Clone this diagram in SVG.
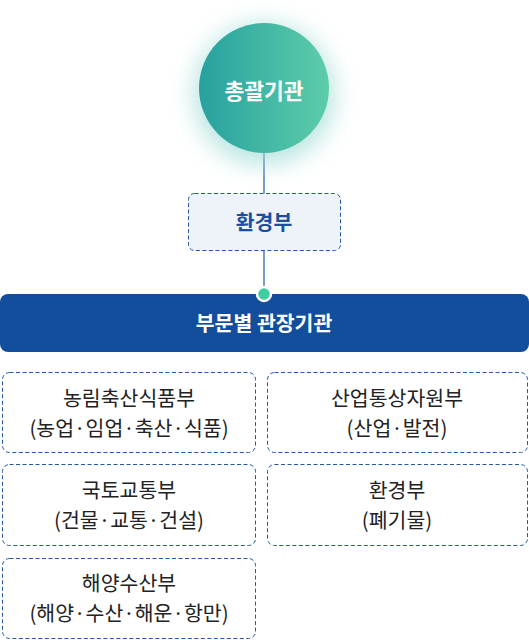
<svg xmlns="http://www.w3.org/2000/svg" width="529" height="640" viewBox="0 0 529 640">
<style>
text{font-family:"Noto Sans CJK KR","Noto Sans",sans-serif;text-anchor:middle}
.sub{fill:none;stroke:#2558a8;stroke-width:1;stroke-dasharray:4 2.5}
.st{font-size:20.5px;fill:#222}
.conn{stroke:#1f56a6;stroke-width:1.2;fill:none}
</style>
<defs>
<linearGradient id="g" x1="0" y1="0" x2="1" y2="0">
<stop offset="0" stop-color="#27a19f"/>
<stop offset="1" stop-color="#5dcda9"/>
</linearGradient>
<filter id="glow" x="-50%" y="-50%" width="200%" height="200%">
<feGaussianBlur stdDeviation="12"/>
</filter>
</defs>
<rect width="529" height="640" fill="#fff"/>
<g id="connectors">
<line class="conn" x1="264" y1="150" x2="264" y2="194"/>
<line class="conn" x1="264" y1="251" x2="264" y2="290"/>
</g>
<g id="root">
<circle cx="264" cy="94" r="70" fill="#9fdcd6" opacity="0.75" filter="url(#glow)"/>
<circle cx="264" cy="88" r="65" fill="url(#g)"/>
<text x="264" y="99" font-size="21.5" font-weight="bold" fill="#fff">총괄기관</text>
</g>
<g id="env">
<rect x="188.5" y="193.5" width="152" height="57" rx="6" class="sub" style="fill:#edf3f8"/>
<text x="264" y="230" font-size="20.5" font-weight="bold" fill="#1b4e9e">환경부</text>
</g>
<g id="bar">
<rect x="0" y="294" width="529" height="58" rx="8" fill="#134e9c"/>
<text x="264" y="331" font-size="20.5" font-weight="bold" fill="#fff">부문별 관장기관</text>
<circle cx="264" cy="294" r="7" fill="#3fcca0" stroke="#fff" stroke-width="2.5"/>
</g>
<g id="n1">
<rect class="sub" x="2.5" y="372.5" width="253" height="80" rx="7"/>
<text class="st" x="129" y="406">농림축산식품부</text>
<text class="st" x="129" y="436">(농업·임업·축산·식품)</text>
</g>
<g id="n2">
<rect class="sub" x="267.5" y="372.5" width="260" height="80" rx="7"/>
<text class="st" x="397" y="406">산업통상자원부</text>
<text class="st" x="397" y="436">(산업·발전)</text>
</g>
<g id="n3">
<rect class="sub" x="2.5" y="464.5" width="253" height="81" rx="7"/>
<text class="st" x="129" y="498">국토교통부</text>
<text class="st" x="129" y="528">(건물·교통·건설)</text>
</g>
<g id="n4">
<rect class="sub" x="267.5" y="464.5" width="260" height="81" rx="7"/>
<text class="st" x="397" y="498">환경부</text>
<text class="st" x="397" y="528">(폐기물)</text>
</g>
<g id="n5">
<rect class="sub" x="2.5" y="558.5" width="253" height="80" rx="7"/>
<text class="st" x="129" y="591">해양수산부</text>
<text class="st" x="129" y="621">(해양·수산·해운·항만)</text>
</g>
</svg>
